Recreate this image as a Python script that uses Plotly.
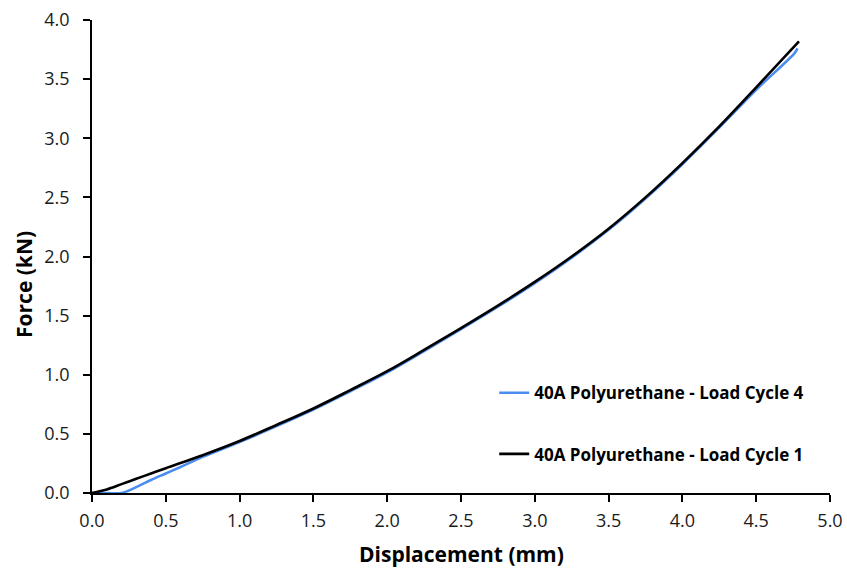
import plotly.graph_objects as go

# Load cycle 1 (black)
cycle1_disp = [0.0, 0.1, 0.2, 0.3, 0.4, 0.5, 0.75, 1.0, 1.25, 1.5, 1.75, 2.0,
               2.25, 2.5, 2.75, 3.0, 3.25, 3.5, 3.75, 4.0, 4.25, 4.5, 4.79]
cycle1_force = [0.0, 0.03, 0.075, 0.12, 0.165, 0.21, 0.32, 0.44, 0.575, 0.715, 0.87, 1.03,
                1.21, 1.395, 1.585, 1.785, 2.0, 2.235, 2.5, 2.79, 3.10, 3.43, 3.82]

# Load cycle 4 (blue)
cycle4_disp = [0.0, 0.1, 0.2, 0.3, 0.4, 0.5, 0.6, 0.75, 1.0, 1.25, 1.5, 1.75, 2.0,
               2.25, 2.5, 2.75, 3.0, 3.25, 3.5, 3.75, 4.0, 4.25, 4.5, 4.76, 4.78]
cycle4_force = [0.0, 0.0, 0.0, 0.05, 0.11, 0.165, 0.22, 0.305, 0.43, 0.565, 0.705, 0.86, 1.02,
                1.20, 1.385, 1.575, 1.775, 1.99, 2.225, 2.49, 2.78, 3.09, 3.41, 3.72, 3.76]

x_ticks = [0.0, 0.5, 1.0, 1.5, 2.0, 2.5, 3.0, 3.5, 4.0, 4.5, 5.0]
y_ticks = [0.0, 0.5, 1.0, 1.5, 2.0, 2.5, 3.0, 3.5, 4.0]

font_family = "'Open Sans', Lato, sans-serif"

fig = go.Figure()
fig.add_trace(go.Scatter(
    x=cycle4_disp, y=cycle4_force, mode="lines",
    name="<b>40A Polyurethane - Load Cycle 4</b>",
    line=dict(color="#4A8CF0", width=2.5, shape="spline", smoothing=1.0),
    legendgroup="c4",
))
fig.add_trace(go.Scatter(
    x=cycle1_disp, y=cycle1_force, mode="lines",
    name="<b>40A Polyurethane - Load Cycle 1</b>",
    line=dict(color="#000000", width=2.6, shape="spline", smoothing=1.0),
    legendgroup="c1",
))

axis_common = dict(
    showgrid=False, zeroline=False, showline=True, linecolor="#000000", linewidth=1.5,
    ticks="outside", ticklen=7, tickwidth=1.5, tickcolor="#000000",
    tickfont=dict(family=font_family, size=18, color="#1a1a1a"),
    tickformat=".1f", automargin=False,
)

fig.update_layout(
    width=847, height=571,
    margin=dict(l=92, r=17, t=20, b=78),
    paper_bgcolor="white", plot_bgcolor="white",
    font=dict(family=font_family, color="#000000"),
    xaxis=dict(range=[0, 5], tickvals=x_ticks, ticklabelstandoff=4, **axis_common),
    yaxis=dict(range=[0, 4], tickvals=y_ticks, ticklabelstandoff=10, **axis_common),
    legend=dict(
        x=0.545, y=0.249, xanchor="left", yanchor="top",
        font=dict(family=font_family, size=17, color="#000000"),
        traceorder="grouped", tracegroupgap=36,
        itemwidth=30, bgcolor="rgba(0,0,0,0)",
    ),
    showlegend=True,
    annotations=[
        dict(text="<b>Displacement (mm)</b>", xref="paper", yref="paper",
             x=0.5, y=-0.13, xanchor="center", yanchor="middle", showarrow=False,
             font=dict(family=font_family, size=21, color="#000000")),
        dict(text="<b>Force (kN)</b>", xref="paper", yref="paper",
             x=-0.092, y=0.44, xanchor="center", yanchor="middle", showarrow=False,
             textangle=-90,
             font=dict(family=font_family, size=21, color="#000000")),
    ],
)

fig.write_html("out.html")
